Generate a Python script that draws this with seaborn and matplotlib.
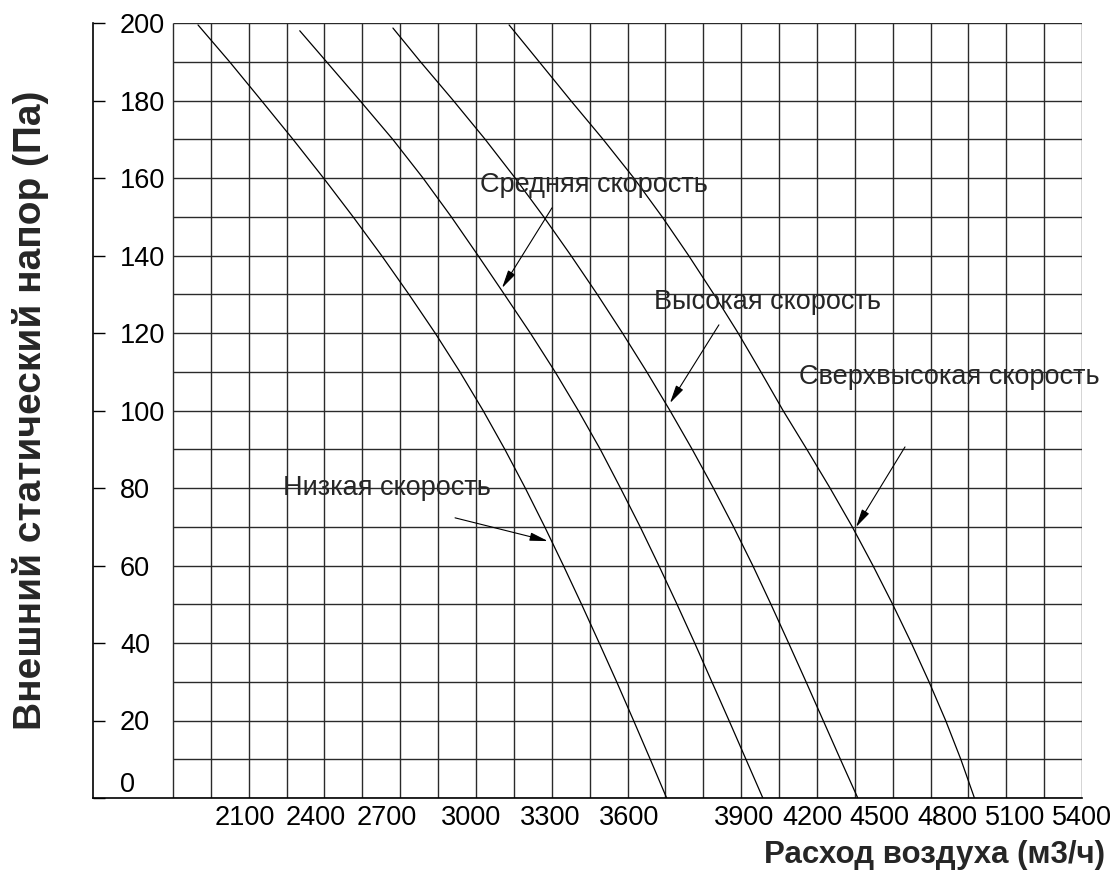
import pandas as pd
import matplotlib.pyplot as plt
import seaborn as sns

# fan curves: air flow (m3/h) at each static pressure step (Pa)
pressure_pa = [190, 180, 170, 160, 150, 140, 130, 120, 110, 100,
               90, 80, 70, 60, 50, 40, 30, 20, 10, 0]
speed_names = ["Низкая скорость", "Средняя скорость",
               "Высокая скорость", "Сверхвысокая скорость"]
top_pressure = [199.5, 198.0, 198.7, 199.5]

low_flow = [1899, 2024, 2150, 2275, 2396, 2513, 2626, 2734, 2838, 2936, 3028,
            3114, 3195, 3272, 3346, 3418, 3488, 3557, 3624, 3690, 3755]
medium_flow = [2302, 2408, 2540, 2670, 2790, 2902, 3008, 3112, 3215, 3313, 3405,
               3492, 3572, 3650, 3724, 3796, 3866, 3934, 4002, 4069, 4136]
high_flow = [2671, 2780, 2910, 3036, 3155, 3268, 3376, 3480, 3580, 3676, 3768,
             3856, 3940, 4020, 4096, 4168, 4238, 4307, 4375, 4443, 4512]
super_flow = [3131, 3250, 3375, 3503, 3625, 3737, 3842, 3942, 4038, 4128, 4216,
              4310, 4402, 4490, 4572, 4650, 4724, 4794, 4860, 4920, 4974]

xtick_labels = ["2100", "2400", "2700", "3000", "3300", "3600",
                "3900", "4200", "4500", "4800", "5100", "5400"]
ytick_values = [0, 20, 40, 60, 80, 100, 120, 140, 160, 180, 200]

# label text anchor, arrow tail, arrow tip (data coords)
label_pos = [(2236, 80.0), (3016, 158.2), (3703, 128.0), (4279, 108.6)]
arrow_tail = [(2917, 72.3), (3301, 152.3), (3962, 122.1), (4699, 90.6)]
arrow_tip = [(3285, 66.3), (3103, 131.6), (3768, 101.9), (4505, 69.9)]

# build a long table for seaborn
rows = []
for name, top, flows in zip(speed_names, top_pressure,
                            [low_flow, medium_flow, high_flow, super_flow]):
    for p, q in zip([top] + pressure_pa, flows):
        rows.append({"speed": name, "flow": q, "pressure": p})
curves = pd.DataFrame(rows)

sns.set_theme(style="white")
plt.rcParams["font.family"] = ["Liberation Sans", "DejaVu Sans"]

fig = plt.figure(figsize=(11.17, 8.75), dpi=100)
ax = fig.add_axes([93 / 1117, 77 / 875, 989 / 1117, 775 / 875])

grid_x0, grid_x1 = 1800, 5400
x_left = grid_x0 - 80 * (grid_x1 - grid_x0) / 909  # y spine sits left of grid

# grid: every 150 m3/h and every 10 Pa
grid_col = "#2a2a2a"
ax.vlines(range(grid_x0, grid_x1 + 1, 150), 0, 200, colors=grid_col, lw=1.0, zorder=1)
ax.hlines(range(0, 201, 10), grid_x0, grid_x1, colors=grid_col, lw=1.0, zorder=1)

sns.lineplot(data=curves, x="flow", y="pressure", hue="speed",
             palette=["black"] * 4, legend=False, estimator=None, sort=False,
             lw=0.9, ax=ax, zorder=3)

for name, pos, tail, tip in zip(speed_names, label_pos, arrow_tail, arrow_tip):
    ax.text(pos[0], pos[1], name, fontsize=19.5, ha="left", va="center", zorder=4)
    ax.annotate("", xy=tip, xytext=tail, zorder=4,
                arrowprops=dict(arrowstyle="-|>,head_length=1.1,head_width=0.25",
                                color="black", lw=0.8, mutation_scale=10,
                                shrinkA=0, shrinkB=0))

ax.set_xlim(x_left, grid_x1)
ax.set_ylim(0, 200)

sns.despine(ax=ax)
for side in ["left", "bottom"]:
    ax.spines[side].set_color("black")
    ax.spines[side].set_linewidth(1.2)

ax.set_yticks(ytick_values, labels=[str(v) for v in ytick_values], ha="left")
ax.tick_params(axis="y", direction="in", length=8.6, width=1, pad=-19.4,
               labelsize=19.5, left=True, colors="black")
ax.get_yticklabels()[0].set_va("bottom")

xtick_pos = [2085, 2366, 2648, 2980, 3293, 3606, 4061, 4331, 4596, 4865, 5135, 5400]
ax.set_xticks(xtick_pos, labels=xtick_labels)
ax.tick_params(axis="x", length=0, pad=5, labelsize=19.5, colors="black")

ax.set_ylabel("Внешний статический напор (Па)", fontsize=28, fontweight="bold")
ax.yaxis.set_label_coords(-0.0445, 0.5)
ax.set_xlabel("Расход воздуха (м3/ч)", fontsize=22.5, fontweight="bold",
              ha="right", va="center")
ax.xaxis.set_label_coords(1.023, -0.0735)

fig.savefig("out.png", dpi=100)
